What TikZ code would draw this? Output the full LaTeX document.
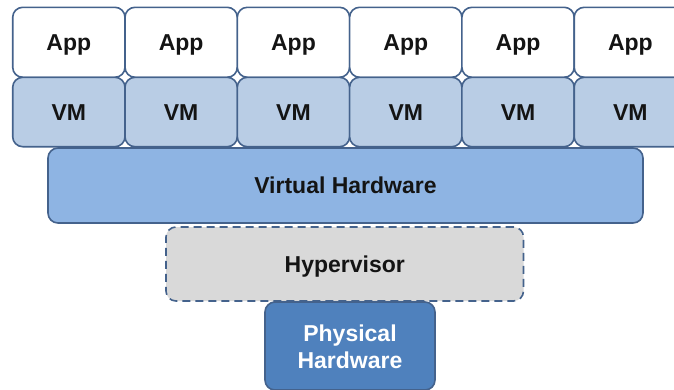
\documentclass[tikz,border=0pt]{standalone}
\usepackage{fontspec}
\setmainfont{Liberation Sans}
\definecolor{edge}{RGB}{68,98,140}
\definecolor{vmfill}{RGB}{185,205,229}
\definecolor{vhfill}{RGB}{142,180,227}
\definecolor{hypfill}{RGB}{217,217,217}
\definecolor{physfill}{RGB}{79,129,189}
\definecolor{ink}{RGB}{20,20,20}
\begin{document}
\begin{tikzpicture}[x=1pt,y=-1pt,
  layer/.style={draw=edge, line width=1.6pt, rounded corners=10pt,
    font=\fontsize{23}{27}\selectfont\bfseries, text=ink,
    inner sep=0pt, align=center},
  oneline/.style={text height=16.5pt, text depth=0pt},
  appbox/.style={layer, oneline, fill=white, minimum width=112.3pt, minimum height=70pt},
  vmbox/.style={layer, oneline, fill=vmfill, minimum width=112.3pt, minimum height=69.4pt},
  vhbox/.style={layer, oneline, fill=vhfill, minimum width=595pt, minimum height=75pt},
  hypbox/.style={layer, oneline, fill=hypfill, dash pattern=on 8pt off 5pt,
    minimum width=357.5pt, minimum height=74pt},
  physbox/.style={layer, fill=physfill, minimum width=170pt, minimum height=88pt},
  physlabel/.style={font=\fontsize{23}{27}\selectfont\bfseries, text=white,
    align=center, inner sep=0pt}
]
\useasboundingbox (0,0) rectangle (674,389);
\clip (0,0) rectangle (674,389);

% guest stack: one application on top of each virtual machine
\foreach \i in {0,...,5} {
  \node[appbox] (app\i) at ({68.85+112.3*\i},42.3) {App};
  \node[vmbox]  (vm\i)  at ({68.85+112.3*\i},112) {VM};
}

% shared layers underneath
\node[vhbox]  (vhw)  at (345.5,185.5) {Virtual Hardware};
\node[hypbox] (hyp)  at (344.75,264) {Hypervisor};
\node[physbox] (phys) at (350,346) {};
\node[physlabel] (phystext) at (350,347) {Physical\\Hardware};
\end{tikzpicture}
\end{document}
